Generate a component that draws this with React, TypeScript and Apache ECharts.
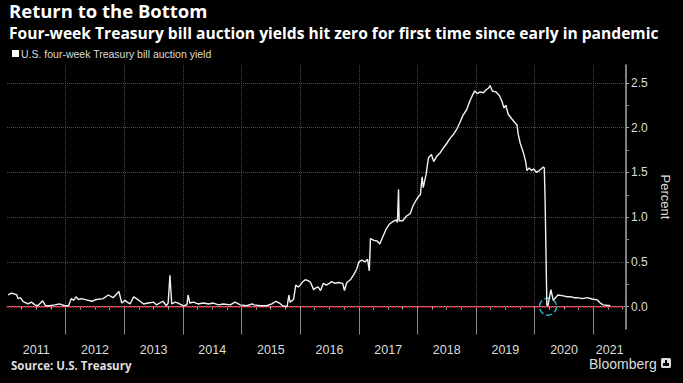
import React, { useEffect, useRef } from 'react';
import * as echarts from 'echarts';

const seriesName = 'U.S. four-week Treasury bill auction yield';

const dates = [
  '2011-01-08', '2011-01-30', '2011-02-20', '2011-03-03', '2011-03-10', '2011-03-25', '2011-04-12', '2011-05-11',
  '2011-06-02', '2011-06-24', '2011-07-12', '2011-08-11', '2011-08-29', '2011-09-23', '2011-10-26', '2011-11-24',
  '2011-12-27',
  '2012-01-19', '2012-02-06', '2012-02-20', '2012-03-06', '2012-03-21', '2012-04-08', '2012-05-11', '2012-06-13',
  '2012-07-12', '2012-08-22', '2012-09-23', '2012-10-23', '2012-11-14', '2012-11-28', '2012-12-16',
  '2013-01-05', '2013-01-19', '2013-02-06', '2013-02-28', '2013-03-18', '2013-04-09', '2013-05-01', '2013-05-30',
  '2013-07-02', '2013-07-20', '2013-08-29', '2013-09-20', '2013-10-01', '2013-10-12', '2013-10-23', '2013-11-14',
  '2013-12-02',
  '2014-01-01', '2014-01-26', '2014-02-02', '2014-02-13', '2014-03-07', '2014-04-05', '2014-05-08', '2014-06-10',
  '2014-07-09', '2014-08-11', '2014-09-09', '2014-10-23', '2014-11-21', '2014-12-24',
  '2015-02-02', '2015-03-10', '2015-03-18', '2015-04-27', '2015-06-06', '2015-07-09', '2015-08-03', '2015-08-25',
  '2015-09-13', '2015-10-12', '2015-10-23', '2015-10-30', '2015-11-21', '2015-12-05', '2015-12-20',
  '2016-01-01', '2016-01-19', '2016-02-02', '2016-02-20', '2016-03-06', '2016-03-25', '2016-04-08', '2016-04-22',
  '2016-05-07', '2016-05-25', '2016-06-12', '2016-07-01', '2016-07-15', '2016-08-06', '2016-08-24', '2016-09-22',
  '2016-10-03', '2016-10-18', '2016-11-09', '2016-12-01', '2016-12-19',
  '2017-01-01', '2017-01-19', '2017-02-09', '2017-02-24', '2017-03-07', '2017-03-14', '2017-04-05', '2017-04-27',
  '2017-05-11', '2017-05-30', '2017-06-21', '2017-07-09', '2017-07-31', '2017-08-22', '2017-08-29', '2017-09-05',
  '2017-09-09', '2017-10-01', '2017-10-23', '2017-11-17', '2017-12-05', '2017-12-27',
  '2018-01-12', '2018-01-19', '2018-01-30', '2018-02-06', '2018-02-24', '2018-03-10', '2018-03-29', '2018-04-12',
  '2018-05-01', '2018-05-23', '2018-06-10', '2018-07-01', '2018-07-23', '2018-08-11', '2018-09-02', '2018-09-23',
  '2018-10-12', '2018-11-03', '2018-11-24', '2018-12-09', '2018-12-24',
  '2019-01-08', '2019-01-26', '2019-02-16', '2019-03-03', '2019-03-18', '2019-03-29', '2019-04-12', '2019-05-04',
  '2019-05-26', '2019-06-10', '2019-06-24', '2019-07-05', '2019-07-20', '2019-08-11', '2019-08-29', '2019-09-13',
  '2019-09-20', '2019-10-04', '2019-10-23', '2019-11-06', '2019-11-14', '2019-11-28', '2019-12-13', '2019-12-27',
  '2020-01-12', '2020-01-30', '2020-02-24', '2020-03-01', '2020-03-06', '2020-03-12', '2020-03-17', '2020-03-24',
  '2020-04-11', '2020-04-26', '2020-05-25', '2020-06-28', '2020-07-20', '2020-08-11', '2020-09-02', '2020-09-23',
  '2020-10-23', '2020-11-24', '2020-12-24',
  '2021-01-26', '2021-02-13', '2021-03-03', '2021-03-24', '2021-04-16',
];

const yields = [
  0.13, 0.15, 0.14, 0.13, 0.09, 0.10, 0.055, 0.03,
  0.05, 0.02, 0.01, 0.065, 0.01, 0.01, 0.02, 0.03,
  0.01,
  0.01, 0.09, 0.07, 0.11, 0.08, 0.09, 0.075, 0.06,
  0.08, 0.09, 0.13, 0.10, 0.14, 0.17, 0.04,
  0.07, 0.05, 0.03, 0.11, 0.09, 0.06, 0.03, 0.04,
  0.05, 0.02, 0.06, 0.01, 0.04, 0.35, 0.03, 0.05,
  0.04,
  0.01, 0.02, 0.13, 0.04, 0.05, 0.03, 0.04, 0.03,
  0.04, 0.02, 0.03, 0.02, 0.05, 0.02,
  0.01, 0.03, 0.02, 0.01, 0.01, 0.03, 0.06, 0.04,
  0.01, 0.0, 0.13, 0.05, 0.08, 0.24, 0.22,
  0.24, 0.28, 0.30, 0.29, 0.27, 0.19, 0.21, 0.22,
  0.18, 0.26, 0.24, 0.26, 0.28, 0.26, 0.27, 0.26,
  0.18, 0.27, 0.30, 0.36, 0.42,
  0.50, 0.52, 0.50, 0.53, 0.40, 0.76, 0.74, 0.73,
  0.70, 0.78, 0.87, 0.92, 0.95, 0.97, 0.94, 1.31,
  0.96, 0.96, 1.01, 1.04, 1.13, 1.20,
  1.24, 1.25, 1.45, 1.33, 1.48, 1.66, 1.70, 1.62,
  1.68, 1.72, 1.77, 1.82, 1.88, 1.92, 1.98, 2.06,
  2.14, 2.20, 2.30, 2.36, 2.41,
  2.38, 2.40, 2.39, 2.42, 2.44, 2.47, 2.41, 2.40,
  2.36, 2.30, 2.22, 2.25, 2.15, 2.10, 2.06, 2.03,
  1.93, 1.82, 1.72, 1.62, 1.52, 1.55, 1.52, 1.54,
  1.50, 1.52, 1.56, 1.55, 1.20, 0.55, 0.02, 0.01,
  0.19, 0.07, 0.13, 0.12, 0.11, 0.11, 0.10, 0.10,
  0.09, 0.10, 0.085,
  0.075, 0.04, 0.02, 0.015, 0.01,
];

const yearLabels = ['2011', '2012', '2013', '2014', '2015', '2016', '2017', '2018', '2019', '2020', '2021'];
const yMajorTicks = [0, 0.5, 1.0, 1.5, 2.0, 2.5];
const yMinorTicks = [0.25, 0.75, 1.25, 1.75, 2.25];
const yMin = -0.25;
const yMax = 2.7;
const xStart = '2011-01-01';
const xEnd = '2021-07-23';
const highlightDate = '2020-03-24';
const highlightValue = 0;
const zeroLine = 0;

const titleText = 'Return to the Bottom';
const subtitleText = 'Four-week Treasury bill auction yields hit zero for first time since early in pandemic';
const sourceText = 'Source: U.S. Treasury';
const brandText = 'Bloomberg';
const axisName = 'Percent';

const FONT = '"Open Sans", "Liberation Sans", Arial, sans-serif';
const FONT2 = '"Liberation Sans", Arial, sans-serif';

export default function App() {
  const ref = useRef<HTMLDivElement>(null);

  useEffect(() => {
    const el = ref.current;
    if (!el) return;
    const chart = echarts.init(el, null, { renderer: 'svg' });
    const ts = (s: string) => Date.parse(s + 'T00:00:00Z');
    const xMin = ts(xStart);
    const xMax = ts(xEnd);
    const data = dates.map((d, i) => [ts(d), yields[i]]);

    const yearStarts = yearLabels.slice(1).map((y) => Date.UTC(+y, 0, 1));
    const quarterTicks: number[] = [];
    yearLabels.forEach((y) => {
      [0, 3, 6, 9].forEach((m) => {
        const v = Date.UTC(+y, m, 1);
        if (v > xMin && v < xMax) quarterTicks.push(v);
      });
    });
    const labelPos = yearLabels.map((y) => {
      const s = Date.UTC(+y, 0, 1);
      const e = Math.min(Date.UTC(+y + 1, 0, 1), xMax);
      return Math.round((s + e) / 2);
    });

    chart.setOption({
      animation: false,
      backgroundColor: '#000',
      title: [
        {
          text: titleText, left: 9, top: 1, padding: 0,
          textStyle: { color: '#fff', fontSize: 18.5, lineHeight: 19, fontWeight: 'bold', fontFamily: FONT },
        },
        {
          text: subtitleText, left: 9, top: 25, padding: 0,
          textStyle: { color: '#fff', fontSize: 15.6, lineHeight: 16, fontWeight: 'bold', fontFamily: FONT },
        },
        {
          text: sourceText, left: 11, top: 359, padding: 0,
          textStyle: { color: '#ddd', fontSize: 11.5, lineHeight: 13, fontWeight: 'bold', fontFamily: FONT },
        },
      ],
      legend: {
        data: [seriesName], left: 12, top: 48, padding: 0,
        icon: 'rect', itemWidth: 7, itemHeight: 7,
        textStyle: { color: '#ddd', fontSize: 10.5, fontFamily: FONT2, padding: [0, 0, 0, -3] },
      },
      grid: { left: 7, right: 57, top: 65, bottom: 54, containLabel: false },
      xAxis: [
        {
          type: 'value', min: xMin, max: xMax, position: 'bottom',
          axisLine: { show: true, lineStyle: { color: '#aaa', width: 1 } },
          axisTick: { show: true, customValues: yearStarts, length: 28, lineStyle: { color: '#888', width: 1 } },
          axisLabel: {
            show: true, customValues: labelPos, margin: 14, color: '#ddd', fontSize: 12.5, fontFamily: FONT2,
            formatter: (v: number) => String(new Date(v).getUTCFullYear()),
          },
          splitLine: { show: true, lineStyle: { color: '#4a4a4a', type: 'dotted', width: 1 } },
        },
        {
          type: 'value', min: xMin, max: xMax, position: 'bottom',
          axisLine: { show: false },
          axisTick: { show: true, customValues: quarterTicks, length: 3, lineStyle: { color: '#aaa' } },
          axisLabel: { show: false },
          splitLine: { show: false },
        },
      ],
      yAxis: [
        {
          type: 'value', min: yMin, max: yMax, position: 'right',
          name: axisName, nameLocation: 'middle', nameRotate: -90, nameGap: 32,
          nameTextStyle: { color: '#ddd', fontSize: 13, fontFamily: FONT2 },
          axisLine: { show: true, lineStyle: { color: '#aaa', width: 1.5 } },
          axisTick: { show: true, customValues: yMajorTicks, length: 3, lineStyle: { color: '#aaa' } },
          axisLabel: {
            show: true, customValues: yMajorTicks, margin: 5, color: '#ddd', fontSize: 12, fontFamily: FONT2,
            formatter: (v: number) => v.toFixed(1),
          },
          splitLine: { show: true, lineStyle: { color: '#4a4a4a', type: 'dotted', width: 1 } },
        },
        {
          type: 'value', min: yMin, max: yMax, position: 'right',
          axisLine: { show: false },
          axisTick: { show: true, customValues: yMinorTicks, length: 3, lineStyle: { color: '#888' } },
          axisLabel: { show: false },
          splitLine: { show: false },
        },
      ],
      series: [
        {
          name: seriesName, type: 'line', data, showSymbol: false, symbol: 'none',
          xAxisIndex: 0, yAxisIndex: 0,
          itemStyle: { color: '#fff' },
          lineStyle: { color: '#f2f2f2', width: 1.4 },
          z: 5,
          markLine: {
            silent: true, symbol: 'none', animation: false,
            label: { show: false },
            lineStyle: { color: '#e0142f', type: [2, 1], width: 1.5 },
            data: [{ yAxis: zeroLine }],
            z: 4,
          },
          markPoint: {
            silent: true, symbol: 'circle', symbolSize: 17,
            label: { show: false },
            itemStyle: { color: 'rgba(0,0,0,0)', borderColor: '#20b3c0', borderWidth: 1.5, borderType: 'dashed' },
            data: [{ coord: [ts(highlightDate), highlightValue] }],
          },
        },
      ],
      graphic: [
        {
          type: 'text', left: 589, top: 357,
          style: { text: brandText, fill: '#ddd', fontSize: 14, fontFamily: FONT2, fontWeight: 'normal' },
        },
        {
          type: 'group', left: 661, top: 358,
          children: [
            { type: 'rect', shape: { x: 0, y: 0, width: 10, height: 10, r: 1.5 }, style: { fill: '#ddd' } },
            { type: 'rect', shape: { x: 2, y: 5, width: 6, height: 3 }, style: { fill: '#000' } },
            { type: 'rect', shape: { x: 4, y: 2, width: 2, height: 3 }, style: { fill: '#000' } },
          ],
        },
      ],
    });

    return () => chart.dispose();
  }, []);

  return (
    <div
      ref={ref}
      style={{ position: 'absolute', left: 0, top: 0, width: 683, height: 383, background: '#000' }}
    />
  );
}
